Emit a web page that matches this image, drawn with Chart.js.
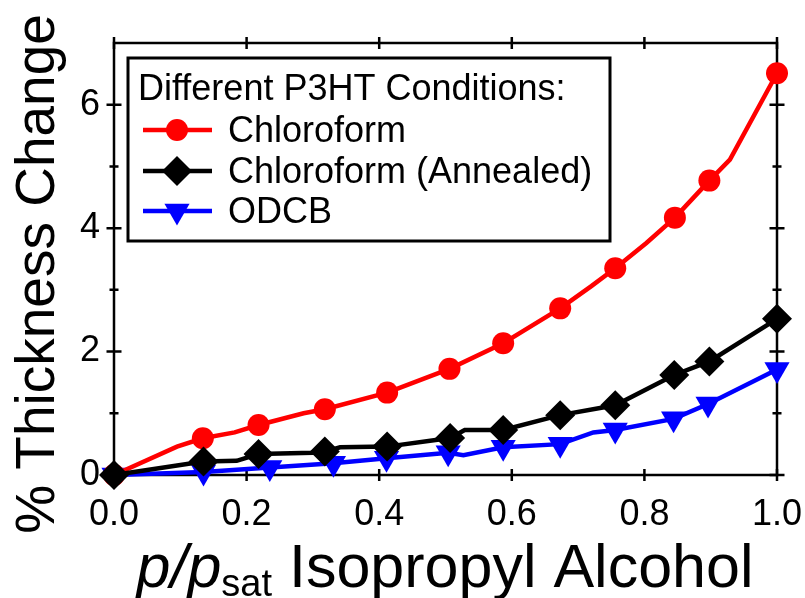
<!DOCTYPE html>
<html>
<head>
<meta charset="utf-8">
<script src="https://cdn.jsdelivr.net/npm/chart.js@4.4.0/dist/chart.umd.min.js"></script>
<style>
  html, body { margin: 0; padding: 0; background: #fff; }
  #wrap { width: 805px; height: 598px; }
</style>
</head>
<body>
<div id="wrap"><canvas id="chart" width="805" height="598"></canvas></div>
<script>
// Swelling of P3HT films vs. relative vapour pressure of isopropyl alcohol
const chloroX = [0, 0.095, 0.134, 0.182, 0.218, 0.286, 0.318, 0.412, 0.506, 0.587, 0.615, 0.673, 0.72, 0.756, 0.803, 0.846, 0.898, 0.929, 1.0];
const chloroY = [0, 0.46, 0.595, 0.69, 0.81, 1.0, 1.065, 1.335, 1.72, 2.135, 2.32, 2.70, 3.06, 3.35, 3.76, 4.17, 4.77, 5.11, 6.51];
const chloroMarked = [1, 0, 1, 0, 1, 0, 1, 1, 1, 1, 0, 1, 0, 1, 0, 1, 1, 0, 1];

const annealX = [0, 0.135, 0.185, 0.218, 0.30, 0.318, 0.341, 0.412, 0.507, 0.529, 0.587, 0.673, 0.756, 0.845, 0.898, 1.0];
const annealY = [0, 0.22, 0.23, 0.34, 0.36, 0.38, 0.45, 0.46, 0.60, 0.73, 0.73, 0.97, 1.13, 1.62, 1.84, 2.53];
const annealMarked = [1, 1, 0, 1, 0, 1, 0, 1, 1, 0, 1, 1, 1, 1, 1, 1];

const odcbX = [0, 0.135, 0.235, 0.331, 0.411, 0.504, 0.527, 0.587, 0.673, 0.723, 0.756, 0.844, 0.896, 1.0];
const odcbY = [0, 0.05, 0.12, 0.19, 0.27, 0.36, 0.32, 0.45, 0.50, 0.69, 0.73, 0.91, 1.15, 1.71];
const odcbMarked = [1, 1, 1, 1, 1, 1, 0, 1, 1, 0, 1, 1, 1, 1];

const seriesNames = ["Chloroform", "Chloroform (Annealed)", "ODCB"];
const legendTitle = "Different P3HT Conditions:";

const xTicks = [0, 0.2, 0.4, 0.6, 0.8, 1.0];
const yTicks = [0, 2, 4, 6];
const yMinorTicks = [1, 3, 5];

const FONT = '"Liberation Sans", Arial, Helvetica, sans-serif';

const toPoints = (xs, ys) => xs.map((x, i) => ({ x: x, y: ys[i] }));

const styles = [
    { color: "#ff0000", shape: "circle", radius: 11, rotation: 0 },
    { color: "#000000", shape: "rectRot", radius: 15, rotation: 0 },
    { color: "#0000ff", shape: "triangle", radius: 14.5, rotation: 180 },
];

const makeDataset = (i, xs, ys, marked, order) => ({
    label: seriesNames[i],
    data: toPoints(xs, ys),
    showLine: true,
    borderColor: styles[i].color,
    backgroundColor: styles[i].color,
    borderWidth: 4.5,
    tension: 0,
    pointStyle: styles[i].shape,
    pointRotation: styles[i].rotation,
    pointRadius: (ctx) => (marked[ctx.dataIndex] ? styles[i].radius : 0),
    pointHoverRadius: (ctx) => (marked[ctx.dataIndex] ? styles[i].radius : 0),
    pointBorderWidth: 0,
    pointBackgroundColor: styles[i].color,
    clip: false,
    order: order,
});

// small marker painter for the legend samples
function paintMarker(ctx, style, x, y) {
    const r = style.radius;
    ctx.fillStyle = style.color;
    ctx.beginPath();
    if (style.shape === "circle") {
        ctx.arc(x, y, r, 0, Math.PI * 2);
    } else if (style.shape === "rectRot") {
        ctx.moveTo(x - r, y);
        ctx.lineTo(x, y - r);
        ctx.lineTo(x + r, y);
        ctx.lineTo(x, y + r);
    } else {
        ctx.moveTo(x, y + r);
        ctx.lineTo(x - r * Math.sin(Math.PI / 3), y - r / 2);
        ctx.lineTo(x + r * Math.sin(Math.PI / 3), y - r / 2);
    }
    ctx.closePath();
    ctx.fill();
}

const framePlugin = {
    id: "frame",
    beforeDatasetsDraw(chart) {
        const { ctx, chartArea: a, scales } = chart;
        ctx.save();
        ctx.strokeStyle = "#000";
        ctx.lineWidth = 2.5;
        ctx.strokeRect(a.left, a.top, a.right - a.left, a.bottom - a.top);
        ctx.beginPath();
        xTicks.forEach((v) => {
            const px = scales.x.getPixelForValue(v);
            ctx.moveTo(px, a.bottom - 6); ctx.lineTo(px, a.bottom + 6);
            ctx.moveTo(px, a.top - 6); ctx.lineTo(px, a.top + 6);
        });
        yTicks.forEach((v) => {
            const py = scales.y.getPixelForValue(v);
            ctx.moveTo(a.left - 7.5, py); ctx.lineTo(a.left + 7.5, py);
            ctx.moveTo(a.right - 7.5, py); ctx.lineTo(a.right + 7.5, py);
        });
        yMinorTicks.forEach((v) => {
            const py = scales.y.getPixelForValue(v);
            ctx.moveTo(a.left - 4.5, py); ctx.lineTo(a.left + 4.5, py);
            ctx.moveTo(a.right - 4.5, py); ctx.lineTo(a.right + 4.5, py);
        });
        ctx.stroke();
        ctx.restore();
    },
    afterDraw(chart) {
        const ctx = chart.ctx;
        ctx.save();
        ctx.fillStyle = "#000";

        // y axis title
        ctx.save();
        ctx.translate(54, 274);
        ctx.rotate(-Math.PI / 2);
        ctx.font = "55px " + FONT;
        ctx.textAlign = "center";
        ctx.textBaseline = "alphabetic";
        ctx.fillText("% Thickness Change", 0, 0);
        ctx.restore();

        // x axis title: p/p_sat Isopropyl Alcohol
        const big = "61px " + FONT;
        const ital = "italic 61px " + FONT;
        const sub = "38px " + FONT;
        const parts = [
            { t: "p/p", f: ital, dy: 0 },
            { t: "sat", f: sub, dy: 9 },
            { t: " Isopropyl Alcohol", f: big, dy: 0 },
        ];
        let total = 0;
        parts.forEach((p) => { ctx.font = p.f; p.w = ctx.measureText(p.t).width; total += p.w; });
        let x = 445 - total / 2;
        ctx.textAlign = "left";
        parts.forEach((p) => {
            ctx.font = p.f;
            ctx.fillText(p.t, x, 587 + p.dy);
            x += p.w;
        });

        // legend
        const box = { left: 128, top: 58, right: 610, bottom: 241 };
        ctx.fillStyle = "#fff";
        ctx.fillRect(box.left, box.top, box.right - box.left, box.bottom - box.top);
        ctx.strokeStyle = "#000";
        ctx.lineWidth = 3;
        ctx.strokeRect(box.left, box.top, box.right - box.left, box.bottom - box.top);
        ctx.fillStyle = "#000";
        ctx.font = "36px " + FONT;
        ctx.fillText(legendTitle, 138, 100);
        const rows = [142, 183, 223];
        seriesNames.forEach((name, i) => {
            const cy = rows[i] - 12;
            ctx.strokeStyle = styles[i].color;
            ctx.lineWidth = 4.5;
            ctx.beginPath();
            ctx.moveTo(143, cy);
            ctx.lineTo(212, cy);
            ctx.stroke();
            paintMarker(ctx, styles[i], 177, cy);
            ctx.fillStyle = "#000";
            ctx.font = "36px " + FONT;
            ctx.fillText(name, 228, rows[i]);
        });
        ctx.restore();
    },
};

new Chart(document.getElementById("chart"), {
    type: "scatter",
    data: {
        datasets: [
            makeDataset(0, chloroX, chloroY, chloroMarked, 1),
            makeDataset(1, annealX, annealY, annealMarked, 0),
            makeDataset(2, odcbX, odcbY, odcbMarked, 2),
        ],
    },
    options: {
        responsive: false,
        animation: false,
        devicePixelRatio: 1,
        layout: { padding: { left: 0, top: 43, right: 28, bottom: 0 } },
        plugins: {
            legend: { display: false },
            tooltip: { enabled: false },
        },
        scales: {
            x: {
                type: "linear",
                min: 0,
                max: 1,
                afterFit: (s) => { s.height = 123; s.paddingLeft = 0; s.paddingRight = 0; },
                afterBuildTicks: (s) => { s.ticks = xTicks.map((v) => ({ value: v })); },
                grid: { display: false, drawTicks: false },
                border: { display: false },
                ticks: {
                    autoSkip: false,
                    maxRotation: 0,
                    padding: 18,
                    color: "#000",
                    font: { family: FONT, size: 36 },
                    callback: (v) => Number(v).toFixed(1),
                },
            },
            y: {
                type: "linear",
                min: 0,
                max: 7,
                afterFit: (s) => { s.width = 114; s.paddingTop = 0; s.paddingBottom = 0; },
                afterBuildTicks: (s) => { s.ticks = yTicks.map((v) => ({ value: v })); },
                grid: { display: false, drawTicks: false },
                border: { display: false },
                ticks: {
                    padding: 14,
                    color: "#000",
                    font: { family: FONT, size: 36 },
                    callback: (v) => String(v),
                },
            },
        },
    },
    plugins: [framePlugin],
});
</script>
</body>
</html>
